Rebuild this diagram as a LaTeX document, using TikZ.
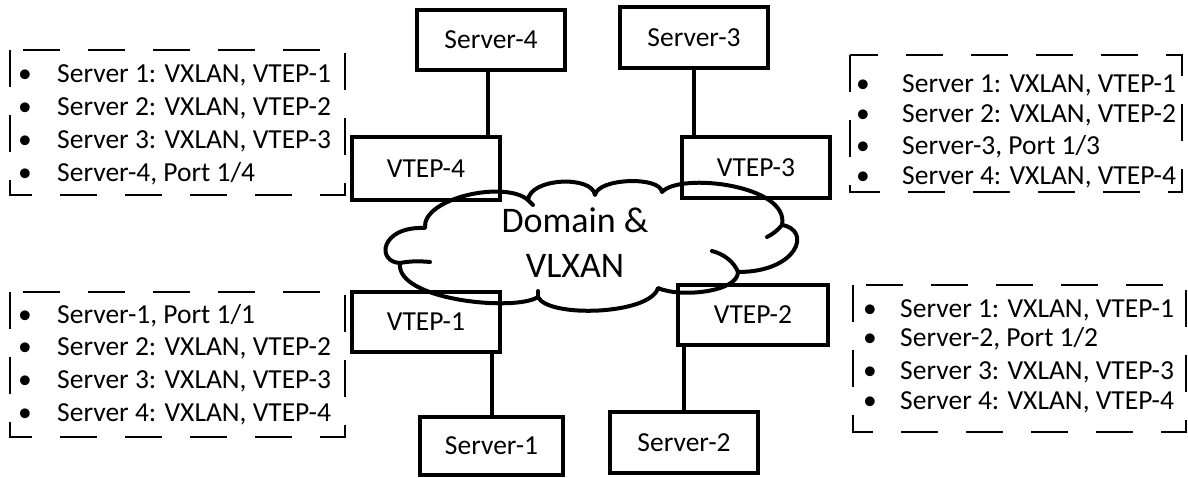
\documentclass[tikz,border=0pt]{standalone}
\usepackage{fontspec}
\setmainfont{Carlito}
\newcommand\entry[5]{%
  \node[dot] (#1b) at (#2,#4) {\textbullet};
  \node[item] (#1) at (#3,#4) {#5};}
\begin{document}
\begin{tikzpicture}[x=1pt,y=-1pt,
  box/.style={draw,line width=3.4pt,inner sep=0pt,minimum width=148pt,minimum height=60pt,
    font=\fontsize{27.5}{33}\selectfont},
  link/.style={line width=4pt},
  cloudline/.style={line width=4pt,line join=round,line cap=round},
  legend/.style={line width=1.3pt,dash pattern=on 37pt off 28pt},
  item/.style={anchor=base west,inner sep=0pt,font=\fontsize{27.5}{33}\selectfont},
  dot/.style={anchor=base,inner sep=0pt,font=\fontsize{27.5}{33}\selectfont},
  netlabel/.style={anchor=base,inner sep=0pt,font=\fontsize{36}{45}\selectfont}]
\useasboundingbox (0,0) rectangle (1188,478);

% overlay network cloud: cusps between the puffs
\coordinate (cA) at (425,228);
\coordinate (cG1) at (528,200);
\coordinate (cG2) at (595,195);
\coordinate (cG3) at (662,192);
\coordinate (cF) at (782,225);
\coordinate (cE) at (738,272);
\coordinate (cD) at (658,288);
\coordinate (cC) at (538,297);
\coordinate (cB) at (400,263);
\draw[cloudline] (cA) .. controls (422,198) and (505,180) .. (cG1)
  .. controls (530,178) and (592,175) .. (cG2)
  .. controls (598,178) and (660,176) .. (cG3)
  .. controls (680,172) and (790,185) .. (cF)
  .. controls (812,230) and (798,272) .. (cE)
  .. controls (738,292) and (680,298) .. (cD)
  .. controls (650,315) and (548,318) .. (cC)
  .. controls (515,312) and (395,300) .. (cB)
  .. controls (376,262) and (380,226) .. (cA) -- cycle;
% inner hooks of the cloud outline
\draw[cloudline] (cB) .. controls (410,261) and (420,261) .. (430,262);
\draw[cloudline] (cE) .. controls (734,262) and (724,254) .. (712,251);
\draw[cloudline] (cF) .. controls (778,230) and (773,234) .. (767,237);
\draw[cloudline] (cG1) -- (533,205);
\draw[cloudline] (cC) -- (538,291);
\node[netlabel] (netA) at (575,233) {Domain \&};
\node[netlabel] (netB) at (575,278) {VLXAN};

% servers and their tunnel end points
\node[box] (srv4) at (491,40) {Server-4};
\node[box,minimum height=61pt] (srv3) at (694,37.5) {Server-3};
\node[box,minimum height=63pt] (vtep4) at (426,168.5) {VTEP-4};
\node[box,minimum height=61pt] (vtep3) at (756,167.5) {VTEP-3};
\node[box] (vtep1) at (426,322) {VTEP-1};
\node[box,minimum width=143pt,minimum height=58pt] (srv1) at (491.5,446) {Server-1};
\node[box,minimum width=150pt] (vtep2) at (753,315) {VTEP-2};
\node[box,minimum height=61pt] (srv2) at (684,442.5) {Server-2};

\draw[link] ([xshift=-3pt]srv4.south) -- ([xshift=-3pt]srv4.south |- vtep4.north);
\draw[link] (srv3.south) -- (srv3.south |- vtep3.north);
\draw[link] (srv1.north) -- (srv1.north |- vtep1.south);
\draw[link] (srv2.north) -- (srv2.north |- vtep2.south);

% forwarding tables
\draw[legend] (10,50) rectangle (345,195);
\entry{tlA}{25}{57}{83}{Server 1: VXLAN, VTEP-1}
\entry{tlB}{25}{57}{116}{Server 2: VXLAN, VTEP-2}
\entry{tlC}{25}{57}{149}{Server 3: VXLAN, VTEP-3}
\entry{tlD}{25}{57}{182}{Server-4, Port 1/4}

\draw[legend] (850,55) rectangle (1182,192);
\entry{trA}{863}{902}{93}{Server 1: VXLAN, VTEP-1}
\entry{trB}{863}{902}{123}{Server 2: VXLAN, VTEP-2}
\entry{trC}{863}{902}{155}{Server-3, Port 1/3}
\entry{trD}{863}{902}{185}{Server 4: VXLAN, VTEP-4}

\draw[legend] (10,292) rectangle (345,437);
\entry{blA}{25}{57}{323}{Server-1, Port 1/1}
\entry{blB}{25}{57}{355}{Server 2: VXLAN, VTEP-2}
\entry{blC}{25}{57}{388}{Server 3: VXLAN, VTEP-3}
\entry{blD}{25}{57}{421}{Server 4: VXLAN, VTEP-4}

\draw[legend] (853,285) rectangle (1186,432);
\entry{brA}{870}{900}{317}{Server 1: VXLAN, VTEP-1}
\entry{brB}{870}{900}{346}{Server-2, Port 1/2}
\entry{brC}{870}{900}{379}{Server 3: VXLAN, VTEP-3}
\entry{brD}{870}{900}{409}{Server 4: VXLAN, VTEP-4}
\end{tikzpicture}
\end{document}
